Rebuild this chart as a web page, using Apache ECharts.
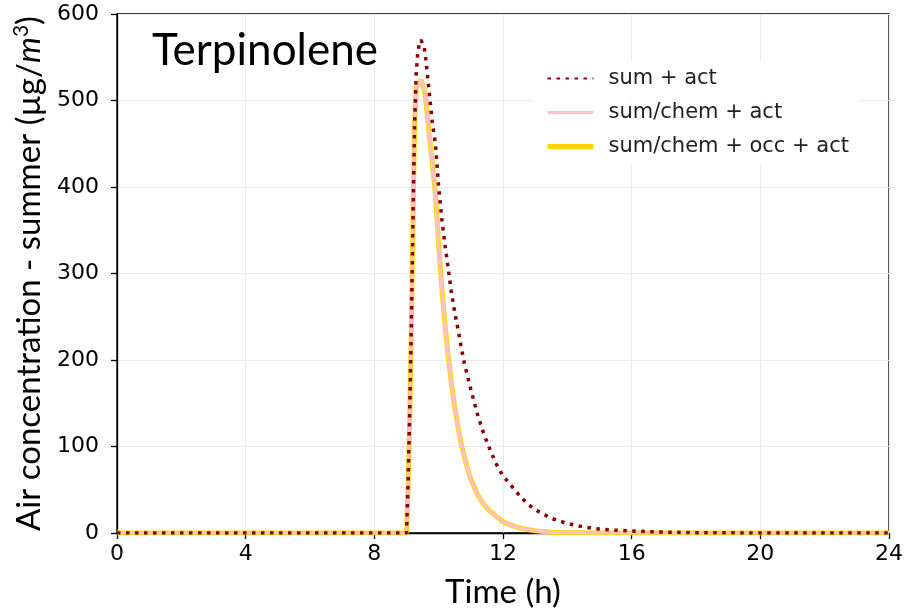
<!DOCTYPE html>
<html>
<head>
<meta charset="utf-8">
<script src="https://cdn.jsdelivr.net/npm/echarts@6/dist/echarts.min.js"></script>
<style>html,body{margin:0;padding:0;background:#fff}#c{width:905px;height:611px}</style>
</head>
<body>
<div id="c"></div>
<script>
const timeHours = [0, 9.0, 9.05, 9.1, 9.15, 9.2, 9.25, 9.3, 9.35, 9.4, 9.45, 9.5, 9.55, 9.6, 9.7, 9.8, 9.9, 10.0, 10.1, 10.2, 10.3, 10.4, 10.5, 10.6, 10.7, 10.8, 10.9, 11.0, 11.2, 11.4, 11.6, 11.8, 12.0, 12.25, 12.5, 12.75, 13.0, 13.25, 13.5, 13.75, 14.0, 14.5, 15.0, 15.5, 16.0, 17.0, 18.0, 20.0, 24.0];
const sumAct = [0, 0, 60, 140, 240, 360, 470, 530, 555, 566, 570, 570, 562, 548, 512, 475, 450, 400, 362, 332, 305, 277, 255, 236, 215, 196, 181, 166, 138, 115, 96, 79, 66, 55, 44, 34, 27, 22, 17, 14, 11, 7, 4.5, 3.2, 2.3, 1, 0.4, 0, 0];
const sumChemAct = [0, 0, 55, 130, 235, 360, 470, 515, 518, 521, 524, 522, 512, 500, 462, 428, 392, 333, 282, 240, 203, 172, 145, 123, 103, 88, 74, 62, 45, 33, 25, 19, 13, 9, 6, 4, 2.5, 1.6, 1, 0.6, 0.4, 0.15, 0.05, 0, 0, 0, 0, 0, 0];
const sumChemOccAct = [0, 0, 55, 130, 235, 360, 470, 515, 518, 521, 524, 522, 512, 500, 462, 428, 392, 333, 282, 240, 203, 172, 145, 123, 103, 88, 74, 62, 45, 33, 25, 19, 13, 9, 6, 4, 2.5, 1.6, 1, 0.6, 0.4, 0.15, 0.05, 0, 0, 0, 0, 0, 0];
const seriesNames = ['sum + act', 'sum/chem + act', 'sum/chem + occ + act'];
const xTicks = [0, 4, 8, 12, 16, 20, 24];
const yTicks = [0, 100, 200, 300, 400, 500, 600];
const chartTitle = 'Terpinolene';

const pair = v => timeHours.map((t, i) => [t, v[i]]);
const tickFont = 'DejaVu Sans';
const labelFont = 'Lato';

const chart = echarts.init(document.getElementById('c'), null, {renderer: 'canvas'});
chart.setOption({
  animation: false,
  backgroundColor: '#fff',
  title: {
    text: chartTitle, left: 147, top: 24,
    textStyle: {fontFamily: labelFont, fontSize: 44, fontWeight: 'normal', color: '#000'}
  },
  grid: {left: 117, right: 16, top: 14, bottom: 78, show: true, borderColor: '#000', borderWidth: 1.3,
         backgroundColor: 'transparent', containLabel: false, outerBoundsMode: 'none'},
  legend: {
    orient: 'vertical', left: 533, top: 60,
    data: [
      {name: seriesNames[0]},
      {name: seriesNames[1], lineStyle: {width: 3}},
      {name: seriesNames[2], lineStyle: {width: 5}}
    ],
    itemWidth: 46, itemHeight: 14, itemGap: 13,
    padding: [8, 10, 8, 12],
    backgroundColor: 'rgba(255,255,255,0.85)',
    itemStyle: {opacity: 0},
    textStyle: {fontFamily: tickFont, fontSize: 21, color: '#222', padding: [0, 0, 0, 10], lineHeight: 20}
  },
  xAxis: {
    type: 'value', min: xTicks[0], max: xTicks[xTicks.length - 1], interval: 4,
    name: 'Time (h)', nameLocation: 'middle', nameGap: 43,
    nameTextStyle: {fontFamily: labelFont, fontSize: 33, color: '#000'},
    axisLine: {show: true, onZero: false, lineStyle: {color: '#000', width: 1.3}},
    axisTick: {show: true, length: 6, lineStyle: {color: '#000', width: 1.3}},
    axisLabel: {fontFamily: tickFont, fontSize: 22, color: '#000', margin: 10},
    splitLine: {show: true, lineStyle: {color: '#ebebeb', width: 1}}
  },
  yAxis: {
    type: 'value', min: yTicks[0], max: yTicks[yTicks.length - 1], interval: 100,
    name: 'Air concentration - summer (µg/{i|m}{sup|3})', nameLocation: 'middle', nameGap: 60, nameRotate: 90,
    nameTextStyle: {
      fontFamily: labelFont, fontSize: 33, color: '#000',
      rich: {
        i: {fontFamily: labelFont, fontSize: 33, fontStyle: 'italic', color: '#000'},
        sup: {fontFamily: labelFont, fontSize: 21, color: '#000', padding: [0, 0, 16, 0]}
      }
    },
    axisLine: {show: true, lineStyle: {color: '#000', width: 1.3}},
    axisTick: {show: true, length: 6, lineStyle: {color: '#000', width: 1.3}},
    axisLabel: {fontFamily: tickFont, fontSize: 22, color: '#000', margin: 18},
    splitLine: {show: true, lineStyle: {color: '#ebebeb', width: 1}}
  },
  series: [
    {name: seriesNames[2], type: 'line', data: pair(sumChemOccAct), showSymbol: false, symbol: 'none',
     lineStyle: {color: '#FFD700', width: 5}, itemStyle: {color: '#FFD700'}, z: 2},
    {name: seriesNames[1], type: 'line', data: pair(sumChemAct), showSymbol: false, symbol: 'none',
     lineStyle: {color: '#FFC0CB', width: 3}, itemStyle: {color: '#FFC0CB'}, z: 3},
    {name: seriesNames[0], type: 'line', data: pair(sumAct), showSymbol: false, symbol: 'none',
     lineStyle: {color: '#8B0000', width: 3.5, type: [3.5, 5.5], cap: 'butt'}, itemStyle: {color: '#8B0000'}, z: 4}
  ]
});
</script>
</body>
</html>
